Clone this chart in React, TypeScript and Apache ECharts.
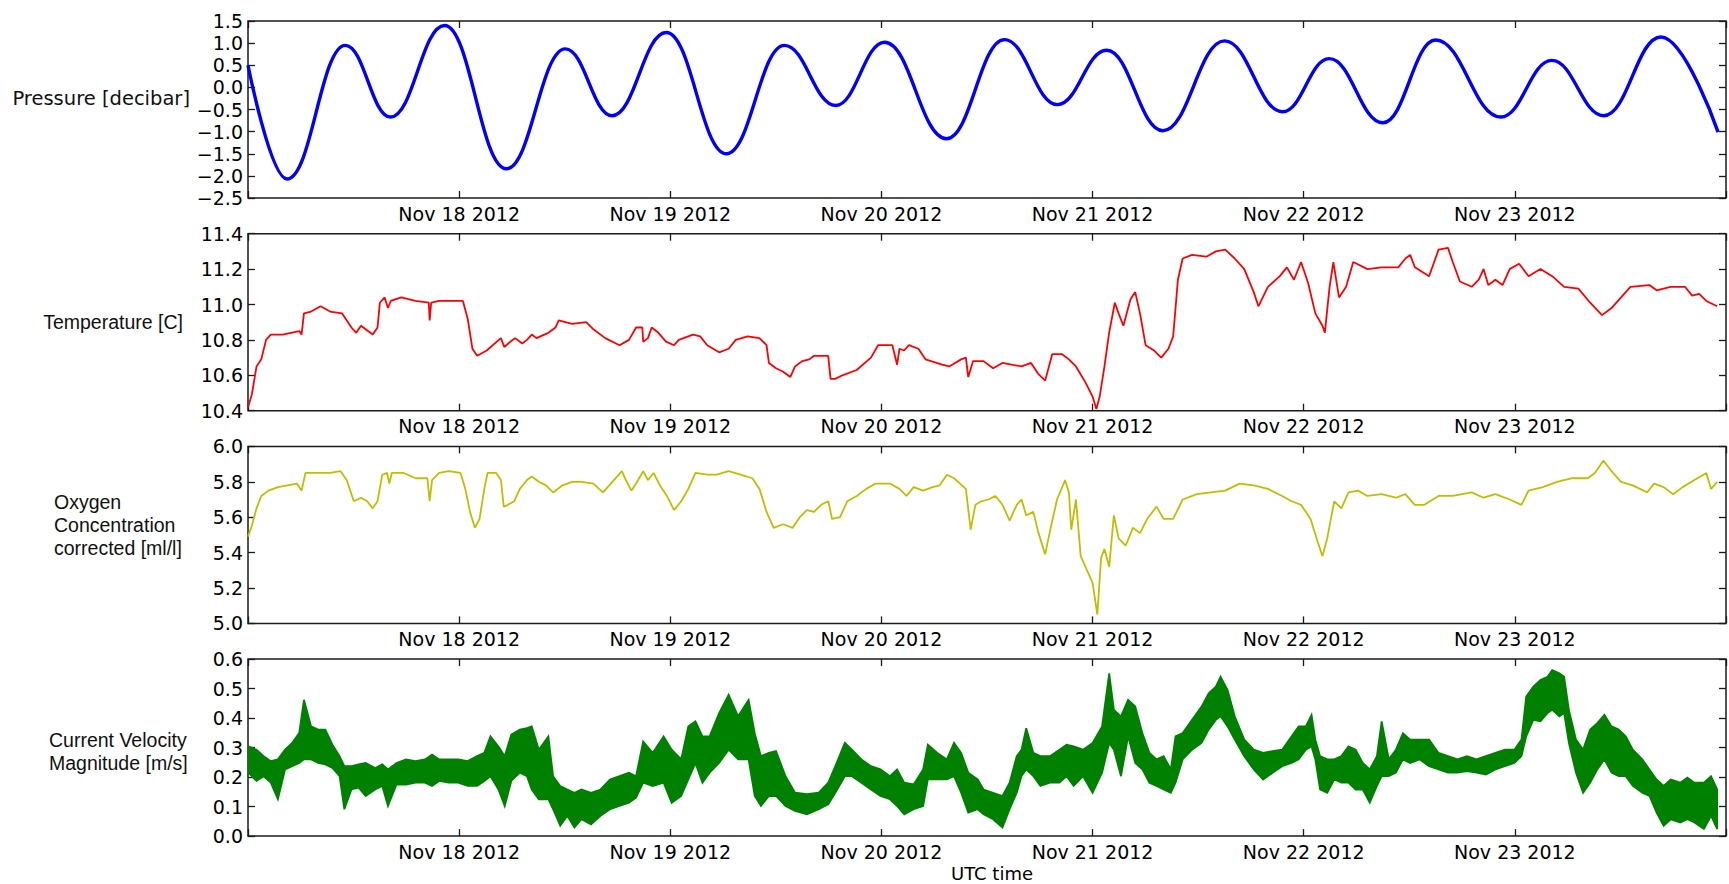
import React, { useEffect, useRef } from "react";
import * as echarts from "echarts";

// Hours since Nov 17 2012 00:00 UTC; x axis spans one week.
const dayLabels = ["Nov 18 2012", "Nov 19 2012", "Nov 20 2012", "Nov 21 2012", "Nov 22 2012", "Nov 23 2012"];

// Tidal pressure anomaly: turning points [hour, decibar]
const pressure: [number, number][] = [
  [0, 0.5], [4.44, -2.07], [11.06, 0.95], [16.2, -0.67], [22.34, 1.4], [29.37, -1.84],
  [36.07, 0.87], [41.4, -0.64], [47.54, 1.24], [54.38, -1.5], [60.97, 0.95], [66.8, -0.41],
  [72.36, 1.02], [79.4, -1.16], [85.98, 1.08], [92.0, -0.39], [97.6, 0.84], [104.0, -0.98],
  [111.0, 1.05], [117.6, -0.55], [122.9, 0.65], [129.0, -0.8], [135.0, 1.07], [142.4, -0.67],
  [148.2, 0.61], [154.1, -0.64], [160.6, 1.14], [167.1, -1.01],
];

// Water temperature [hour, degC]
const temperature: [number, number][] = [
  [0, 10.42], [0.43, 10.49], [0.97, 10.65], [1.51, 10.69], [2.05, 10.8], [2.59, 10.83], [3.94, 10.83],
  [5.82, 10.85], [6.09, 10.83], [6.36, 10.95], [7.17, 10.96], [8.25, 10.99], [9.33, 10.96], [10.68, 10.95],
  [11.76, 10.87], [12.3, 10.84], [12.84, 10.88], [13.64, 10.85], [14.18, 10.83], [14.72, 10.87], [14.99, 11.01],
  [15.53, 11.04], [15.91, 10.98], [16.23, 11.02], [17.42, 11.04], [19.04, 11.02], [20.55, 11.01], [20.65, 10.91],
  [20.82, 11.01], [21.73, 11.02], [24.43, 11.02], [24.97, 10.92], [25.51, 10.75], [26.05, 10.71], [27.13, 10.74],
  [28.75, 10.81], [29.12, 10.76], [29.82, 10.79], [30.36, 10.81], [31.17, 10.78], [31.71, 10.8], [32.25, 10.83],
  [32.79, 10.81], [34.14, 10.84], [34.95, 10.87], [35.32, 10.91], [36.83, 10.89], [38.45, 10.9], [39.26, 10.86],
  [40.61, 10.81], [42.23, 10.77], [43.31, 10.8], [44.11, 10.87], [44.82, 10.87], [44.92, 10.79], [45.46, 10.81],
  [45.89, 10.87], [46.65, 10.84], [47.51, 10.79], [48.43, 10.77], [48.97, 10.8], [50.59, 10.83], [51.4, 10.82],
  [52.2, 10.77], [53.55, 10.73], [54.63, 10.75], [55.44, 10.8], [56.79, 10.82], [58.14, 10.81], [58.94, 10.77],
  [59.21, 10.67], [60.02, 10.64], [60.83, 10.62], [61.64, 10.59], [62.18, 10.65], [62.99, 10.68], [63.8, 10.69],
  [64.34, 10.71], [65.95, 10.71], [66.22, 10.58], [66.76, 10.58], [67.57, 10.6], [69.19, 10.63], [70.81, 10.7],
  [71.62, 10.77], [73.24, 10.77], [73.78, 10.66], [74.05, 10.75], [74.58, 10.74], [75.12, 10.77], [76.2, 10.75],
  [77.01, 10.69], [78.9, 10.66], [79.71, 10.65], [81.06, 10.69], [81.6, 10.7], [81.87, 10.59], [82.41, 10.68],
  [83.61, 10.68], [84.69, 10.64], [85.76, 10.67], [87.92, 10.65], [89.0, 10.67], [89.8, 10.61], [90.61, 10.57],
  [91.42, 10.72], [92.5, 10.72], [93.31, 10.69], [94.11, 10.65], [95.19, 10.56], [96.0, 10.48], [96.43, 10.41],
  [96.81, 10.48], [97.35, 10.65], [97.88, 10.84], [98.53, 11.01], [98.96, 10.95], [99.5, 10.88], [100.31, 11.03],
  [100.85, 11.07], [101.39, 10.95], [102.03, 10.77], [103.0, 10.74], [103.81, 10.7], [104.62, 10.75], [105.16, 10.82],
  [105.7, 11.14], [106.24, 11.26], [107.31, 11.28], [108.93, 11.27], [110.01, 11.3], [111.08, 11.31], [112.16, 11.26],
  [113.24, 11.2], [114.32, 11.07], [114.85, 10.99], [115.93, 11.1], [117.28, 11.16], [118.09, 11.21], [118.89, 11.14],
  [119.7, 11.24], [120.51, 11.12], [121.32, 10.95], [122.13, 10.88], [122.4, 10.84], [122.94, 11.1], [123.37, 11.24],
  [124.01, 11.04], [124.82, 11.1], [125.63, 11.24], [127.25, 11.2], [128.86, 11.21], [130.75, 11.21], [131.56, 11.26],
  [132.1, 11.28], [132.64, 11.21], [134.25, 11.16], [135.33, 11.31], [136.4, 11.32], [136.94, 11.24], [137.75, 11.13],
  [139.1, 11.1], [139.9, 11.14], [140.44, 11.2], [140.98, 11.11], [141.79, 11.14], [142.6, 11.11], [143.41, 11.2],
  [144.48, 11.23], [145.56, 11.16], [146.91, 11.2], [148.25, 11.16], [149.6, 11.1], [151.22, 11.09], [152.56, 11.01],
  [153.91, 10.94], [154.99, 10.98], [156.07, 11.04], [157.14, 11.1], [159.3, 11.11], [160.11, 11.08], [161.72, 11.1],
  [163.34, 11.1], [164.15, 11.05], [164.95, 11.06], [165.76, 11.02], [167.0, 10.99],
];

// Corrected oxygen concentration [hour, ml/l]
const oxygen: [number, number][] = [
  [0, 5.49], [0.43, 5.55], [0.97, 5.65], [1.51, 5.72], [2.32, 5.75], [3.4, 5.77], [4.48, 5.78], [5.55, 5.79],
  [6.09, 5.75], [6.53, 5.85], [7.71, 5.85], [9.33, 5.85], [10.52, 5.86], [11.22, 5.81], [12.03, 5.69], [12.84, 5.71],
  [13.54, 5.69], [14.18, 5.65], [14.72, 5.69], [15.26, 5.84], [15.8, 5.85], [16.07, 5.79], [16.34, 5.85], [17.69, 5.85],
  [19.04, 5.82], [20.39, 5.82], [20.65, 5.69], [20.92, 5.81], [21.73, 5.85], [22.81, 5.86], [24.16, 5.85], [24.7, 5.76],
  [25.24, 5.63], [25.78, 5.54], [26.32, 5.59], [26.86, 5.76], [27.23, 5.85], [28.21, 5.85], [28.75, 5.81], [29.07, 5.66],
  [29.55, 5.67], [30.25, 5.69], [30.9, 5.76], [31.71, 5.81], [32.25, 5.83], [33.06, 5.8], [33.87, 5.78], [34.68, 5.74],
  [35.76, 5.78], [36.83, 5.8], [37.91, 5.8], [39.26, 5.79], [40.34, 5.74], [41.42, 5.8], [42.5, 5.86], [43.04, 5.8],
  [43.58, 5.75], [44.11, 5.79], [44.92, 5.86], [45.46, 5.81], [46.11, 5.85], [46.81, 5.78], [47.62, 5.72], [48.43, 5.64],
  [49.24, 5.69], [50.05, 5.76], [50.86, 5.85], [52.2, 5.84], [53.28, 5.84], [54.63, 5.86], [55.98, 5.84], [57.33, 5.82],
  [58.14, 5.76], [58.94, 5.63], [59.75, 5.54], [60.83, 5.56], [61.91, 5.54], [62.72, 5.6], [63.53, 5.64], [64.34, 5.63],
  [65.15, 5.67], [65.96, 5.69], [66.39, 5.59], [67.3, 5.6], [68.11, 5.69], [69.19, 5.72], [70.27, 5.76], [71.35, 5.79],
  [72.97, 5.79], [74.05, 5.76], [74.85, 5.72], [75.66, 5.77], [76.74, 5.75], [77.82, 5.77], [78.63, 5.78], [79.44, 5.84],
  [80.25, 5.82], [81.6, 5.76], [82.14, 5.53], [82.68, 5.67], [83.34, 5.69], [84.15, 5.7], [84.96, 5.72], [85.76, 5.67],
  [86.57, 5.58], [87.38, 5.67], [87.92, 5.7], [88.46, 5.61], [89.27, 5.63], [89.8, 5.52], [90.61, 5.39], [91.15, 5.52],
  [91.96, 5.7], [92.88, 5.81], [93.31, 5.74], [93.58, 5.53], [94.11, 5.7], [94.65, 5.38], [95.46, 5.29], [96.0, 5.23],
  [96.54, 5.05], [96.97, 5.37], [97.35, 5.42], [97.89, 5.32], [98.42, 5.61], [98.96, 5.48], [99.77, 5.44], [100.58, 5.54],
  [101.39, 5.51], [102.2, 5.59], [103.27, 5.66], [104.08, 5.59], [105.16, 5.59], [106.24, 5.7], [107.85, 5.73],
  [109.47, 5.74], [111.08, 5.75], [112.7, 5.79], [114.32, 5.78], [115.93, 5.76], [117.55, 5.72], [118.63, 5.69],
  [119.7, 5.67], [120.78, 5.59], [121.59, 5.46], [122.13, 5.38], [122.67, 5.48], [123.47, 5.69], [124.28, 5.65],
  [125.09, 5.74], [126.17, 5.75], [127.24, 5.72], [128.86, 5.73], [130.48, 5.71], [131.55, 5.73], [132.63, 5.67],
  [133.71, 5.67], [135.33, 5.72], [136.94, 5.72], [139.1, 5.74], [140.44, 5.71], [141.79, 5.73], [143.41, 5.7],
  [144.75, 5.67], [145.56, 5.75], [147.18, 5.77], [148.79, 5.8], [150.41, 5.82], [152.29, 5.82], [153.1, 5.85],
  [154.07, 5.92], [154.99, 5.86], [156.07, 5.8], [157.41, 5.78], [159.03, 5.74], [159.83, 5.79], [160.91, 5.77],
  [161.99, 5.73], [163.07, 5.77], [164.41, 5.81], [165.76, 5.85], [166.3, 5.76], [167.0, 5.8],
];

// Current speed: sample hours with the low and high edge of the fluctuation band [m/s]
const velocityHours = [
  0.05, 0.97, 1.78, 2.59, 3.4, 4.21, 5.02, 5.82, 6.36, 7.17, 7.98, 8.79, 9.6, 10.41, 10.95, 11.76, 12.57, 13.37, 14.45,
  15.26, 15.91, 16.88, 17.96, 19.04, 20.12, 20.92, 21.73, 22.81, 23.89, 24.97, 26.05, 26.86, 27.56, 28.47, 29.18, 29.93,
  30.9, 31.71, 32.25, 33.06, 34.14, 34.68, 35.49, 36.3, 37.1, 37.91, 38.99, 40.07, 41.15, 42.23, 43.31, 44.11, 44.92,
  46.0, 47.24, 48.16, 49.24, 50.05, 50.86, 51.66, 52.47, 53.55, 54.63, 55.71, 56.9, 57.6, 58.3, 59.21, 60.02, 61.1,
  62.18, 63.53, 64.88, 65.96, 66.76, 67.84, 68.65, 69.73, 70.81, 71.89, 72.97, 73.78, 74.59, 75.66, 76.74, 77.28, 78.36,
  79.44, 80.25, 81.06, 81.87, 82.94, 83.61, 84.69, 85.76, 86.57, 87.38, 87.92, 88.46, 89.27, 90.07, 91.15, 92.23, 93.04,
  93.85, 94.92, 96.0, 97.08, 97.89, 98.42, 99.23, 100.04, 100.85, 101.66, 102.46, 103.27, 104.08, 104.89, 105.43,
  106.24, 107.31, 108.39, 109.2, 110.01, 110.55, 111.35, 112.16, 113.24, 114.32, 115.39, 116.47, 117.55, 118.63,
  119.43, 120.24, 120.89, 121.32, 121.86, 122.67, 123.47, 124.28, 125.09, 125.9, 126.71, 127.51, 128.32, 128.86,
  129.67, 130.48, 131.28, 132.09, 133.17, 134.25, 135.33, 136.4, 137.48, 138.56, 139.63, 140.71, 141.79, 142.87,
  143.94, 144.75, 145.29, 146.1, 146.91, 147.71, 148.25, 149.06, 149.6, 150.14, 150.95, 151.76, 152.56, 153.37,
  154.18, 154.99, 155.8, 156.6, 157.41, 158.49, 159.3, 160.11, 160.91, 161.72, 162.8, 163.61, 164.41, 165.49, 166.3, 167.0,
];
const velocityLow = [
  0.215, 0.187, 0.203, 0.181, 0.125, 0.226, 0.237, 0.248, 0.26, 0.26, 0.248, 0.243, 0.231, 0.203, 0.091, 0.158, 0.164,
  0.136, 0.158, 0.17, 0.102, 0.175, 0.175, 0.181, 0.181, 0.17, 0.187, 0.181, 0.181, 0.17, 0.17, 0.187, 0.203, 0.158,
  0.102, 0.187, 0.215, 0.203, 0.158, 0.125, 0.125, 0.091, 0.035, 0.069, 0.029, 0.057, 0.04, 0.069, 0.091, 0.102, 0.113,
  0.13, 0.181, 0.17, 0.181, 0.113, 0.136, 0.192, 0.248, 0.181, 0.215, 0.248, 0.293, 0.26, 0.26, 0.136, 0.102, 0.136,
  0.136, 0.102, 0.085, 0.074, 0.091, 0.108, 0.147, 0.203, 0.203, 0.181, 0.158, 0.136, 0.125, 0.102, 0.074, 0.091, 0.102,
  0.192, 0.192, 0.192, 0.203, 0.147, 0.08, 0.091, 0.074, 0.057, 0.029, 0.091, 0.147, 0.203, 0.226, 0.203, 0.17, 0.181,
  0.181, 0.203, 0.17, 0.203, 0.147, 0.215, 0.316, 0.293, 0.203, 0.338, 0.248, 0.226, 0.181, 0.17, 0.158, 0.147, 0.181,
  0.26, 0.293, 0.316, 0.361, 0.394, 0.406, 0.372, 0.327, 0.271, 0.226, 0.192, 0.215, 0.237, 0.248, 0.26, 0.293, 0.304,
  0.26, 0.158, 0.147, 0.192, 0.181, 0.181, 0.158, 0.158, 0.113, 0.17, 0.203, 0.203, 0.215, 0.26, 0.248, 0.26, 0.237,
  0.226, 0.215, 0.215, 0.22, 0.215, 0.209, 0.226, 0.237, 0.248, 0.271, 0.338, 0.394, 0.389, 0.417, 0.428, 0.406, 0.417,
  0.316, 0.215, 0.147, 0.181, 0.226, 0.26, 0.215, 0.203, 0.203, 0.17, 0.147, 0.136, 0.08, 0.035, 0.057, 0.046, 0.057,
  0.046, 0.024, 0.069, 0.024,
];
const velocityHigh = [
  0.304, 0.293, 0.271, 0.254, 0.26, 0.293, 0.316, 0.349, 0.462, 0.372, 0.361, 0.361, 0.31, 0.271, 0.237, 0.237, 0.243,
  0.248, 0.231, 0.243, 0.226, 0.248, 0.26, 0.254, 0.26, 0.276, 0.26, 0.26, 0.26, 0.254, 0.271, 0.282, 0.338, 0.304,
  0.271, 0.344, 0.361, 0.366, 0.372, 0.293, 0.338, 0.203, 0.17, 0.158, 0.147, 0.158, 0.147, 0.158, 0.192, 0.203, 0.215,
  0.203, 0.321, 0.282, 0.338, 0.293, 0.26, 0.372, 0.389, 0.338, 0.338, 0.417, 0.479, 0.406, 0.462, 0.349, 0.271, 0.282,
  0.288, 0.203, 0.147, 0.142, 0.147, 0.181, 0.237, 0.316, 0.293, 0.26, 0.237, 0.226, 0.203, 0.226, 0.181, 0.175, 0.226,
  0.31, 0.282, 0.26, 0.316, 0.282, 0.215, 0.192, 0.158, 0.147, 0.136, 0.181, 0.271, 0.293, 0.366, 0.282, 0.271, 0.271,
  0.293, 0.31, 0.304, 0.293, 0.316, 0.372, 0.552, 0.428, 0.406, 0.462, 0.439, 0.349, 0.282, 0.26, 0.271, 0.226, 0.338,
  0.349, 0.394, 0.439, 0.484, 0.507, 0.54, 0.495, 0.406, 0.327, 0.293, 0.282, 0.288, 0.293, 0.338, 0.372, 0.372, 0.411,
  0.327, 0.271, 0.26, 0.26, 0.271, 0.304, 0.293, 0.248, 0.226, 0.271, 0.389, 0.26, 0.293, 0.349, 0.327, 0.327, 0.327,
  0.282, 0.271, 0.26, 0.271, 0.26, 0.271, 0.282, 0.293, 0.293, 0.327, 0.473, 0.507, 0.529, 0.54, 0.563, 0.552, 0.54,
  0.428, 0.327, 0.293, 0.361, 0.383, 0.411, 0.372, 0.361, 0.338, 0.293, 0.26, 0.226, 0.192, 0.17, 0.192, 0.181, 0.198,
  0.181, 0.181, 0.203, 0.158,
];

const TICK_FONT = "DejaVu Sans";
const LABEL_FONT = "Liberation Sans";
const FRAME = "#1a1a1a";

const panels = [
  { min: -2.5, max: 1.5, interval: 0.5 },
  { min: 10.4, max: 11.4, interval: 0.2 },
  { min: 5.0, max: 6.0, interval: 0.2 },
  { min: 0.0, max: 0.6, interval: 0.1 },
];

const fmtY = (v: number) => v.toFixed(1).replace("-", "\u2212");
const fmtX = (v: number) => {
  const i = Math.round(v / 24) - 1;
  return dayLabels[i] ?? "";
};

function buildOption(): echarts.EChartsOption {
  const top0 = 21;
  const step = 212.7;
  const grid = panels.map((_, i) => ({
    left: 248,
    width: 1489,
    top: top0 + i * step,
    height: 177,
    show: true,
    borderColor: FRAME,
    borderWidth: 1.5,
    backgroundColor: "transparent",
  }));

  const tick = { inside: true, length: 7, lineStyle: { color: FRAME, width: 1.3 } };
  const noLine = { show: false, onZero: false };
  const xAxis: any[] = [];
  const yAxis: any[] = [];
  panels.forEach((p, i) => {
    xAxis.push({
      type: "value", gridIndex: i, position: "bottom", min: 0, max: 168, interval: 24,
      axisLine: noLine, splitLine: { show: false }, axisTick: tick,
      axisLabel: { formatter: fmtX, fontFamily: TICK_FONT, fontSize: 19, color: "#000", margin: 6 },
    });
    xAxis.push({
      type: "value", gridIndex: i, position: "top", min: 0, max: 168, interval: 24,
      axisLine: noLine, splitLine: { show: false }, axisTick: tick, axisLabel: { show: false },
    });
    yAxis.push({
      type: "value", gridIndex: i, position: "left", min: p.min, max: p.max, interval: p.interval,
      axisLine: noLine, splitLine: { show: false }, axisTick: tick,
      axisLabel: { formatter: fmtY, fontFamily: TICK_FONT, fontSize: 19, color: "#000", margin: 5 },
    });
    yAxis.push({
      type: "value", gridIndex: i, position: "right", min: p.min, max: p.max, interval: p.interval,
      axisLine: noLine, splitLine: { show: false }, axisTick: tick, axisLabel: { show: false },
    });
  });

  const series: any[] = [
    {
      type: "line", name: "Pressure", xAxisIndex: 0, yAxisIndex: 0, data: pressure,
      showSymbol: false, smooth: 0.42, smoothMonotone: "x",
      lineStyle: { color: "#0000ff", width: 3.4 },
    },
    {
      type: "line", name: "Temperature", xAxisIndex: 2, yAxisIndex: 2, data: temperature,
      showSymbol: false, lineStyle: { color: "#ff0000", width: 1.8 },
    },
    {
      type: "line", name: "Oxygen", xAxisIndex: 4, yAxisIndex: 4, data: oxygen,
      showSymbol: false, lineStyle: { color: "#bfbf00", width: 1.8 },
    },
    {
      // Fluctuation band of the current speed, between its low and high edges
      type: "custom", name: "Velocity", xAxisIndex: 6, yAxisIndex: 6,
      data: [[velocityHours[0], velocityLow[0]]],
      clip: true,
      renderItem: (_params: any, api: any) => {
        const upper = velocityHours.map((h, i) => api.coord([h, velocityHigh[i]]));
        const lower = velocityHours.map((h, i) => api.coord([h, velocityLow[i]])).reverse();
        return {
          type: "polygon",
          shape: { points: upper.concat(lower) },
          style: { fill: "#008000", stroke: "#008000", lineWidth: 1.8, lineJoin: "miter" },
        };
      },
    },
  ];

  const label = (text: string, x: number, y: number, align: "left" | "right", font = LABEL_FONT, size = 19.5) => ({
    type: "text", x, y,
    style: {
      text, textAlign: align, textVerticalAlign: "middle",
      fontFamily: font, fontSize: size, lineHeight: 23, fill: "#111",
    },
  });

  return {
    animation: false,
    backgroundColor: "#fff",
    grid, xAxis, yAxis, series,
    graphic: [
      label("Pressure [decibar]", 190, 98, "right", TICK_FONT, 19.5),
      label("Temperature [C]", 183, 322, "right"),
      label("Oxygen\nConcentration\ncorrected [ml/l]", 54, 525, "left"),
      label("Current Velocity\nMagnitude [m/s]", 49, 751.5, "left"),
      {
        type: "text", x: 992, y: 873,
        style: {
          text: "UTC time", textAlign: "center", textVerticalAlign: "middle",
          fontFamily: TICK_FONT, fontSize: 18, fill: "#000",
        },
      },
    ],
  };
}

export default function App() {
  const ref = useRef<HTMLDivElement>(null);
  useEffect(() => {
    if (!ref.current) return;
    const chart = echarts.init(ref.current, null, { renderer: "svg" });
    chart.setOption(buildOption());
    return () => chart.dispose();
  }, []);
  return (
    <div
      ref={ref}
      style={{ position: "fixed", left: 0, top: 0, width: 1729, height: 884, background: "#fff" }}
    />
  );
}
